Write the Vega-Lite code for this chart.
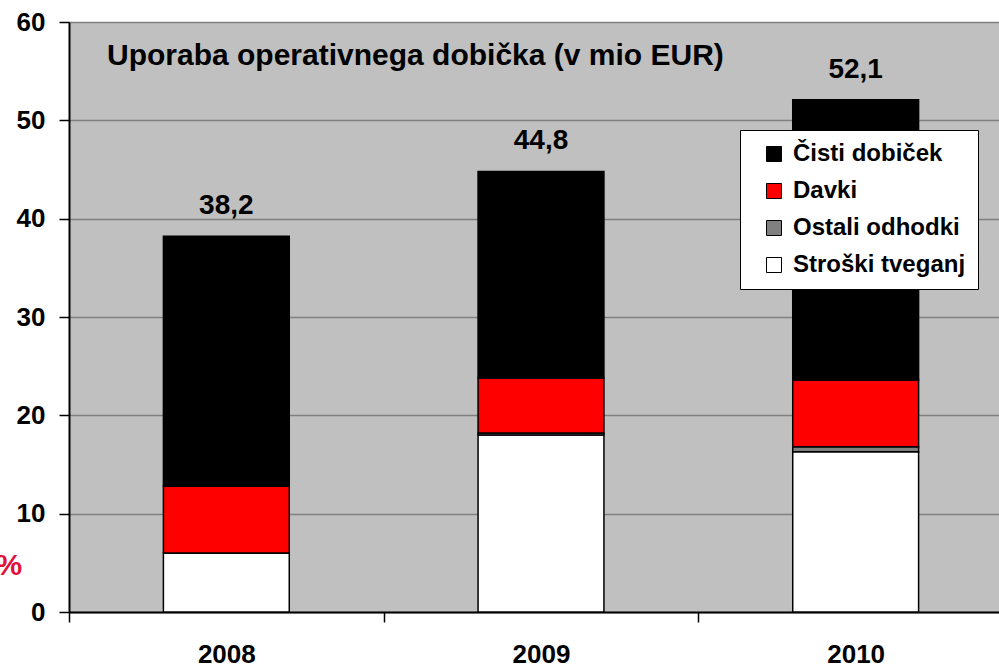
{
  "$schema": "https://vega.github.io/schema/vega-lite/v6.json",
  "width": 944,
  "height": 590,
  "autosize": "none",
  "padding": {"left": 69, "top": 22, "right": 0, "bottom": 56},
  "background": "white",
  "config": {
    "view": {"fill": "#c0c0c0", "stroke": null},
    "font": "Liberation Sans"
  },
  "title": {
    "text": "Uporaba operativnega dobička (v mio EUR)",
    "anchor": "start",
    "frame": "group",
    "orient": "top",
    "baseline": "middle",
    "offset": 0,
    "dx": 38,
    "dy": 77,
    "fontSize": 30,
    "fontWeight": "bold",
    "color": "black"
  },
  "datasets": {
    "bars": [
      {"leto": "2008", "kategorija": "Stroški tveganj", "red": 1, "vrednost": 6.0},
      {"leto": "2008", "kategorija": "Ostali odhodki", "red": 2, "vrednost": 0.0},
      {"leto": "2008", "kategorija": "Davki", "red": 3, "vrednost": 6.8},
      {"leto": "2008", "kategorija": "Čisti dobiček", "red": 4, "vrednost": 25.4},
      {"leto": "2009", "kategorija": "Stroški tveganj", "red": 1, "vrednost": 18.0},
      {"leto": "2009", "kategorija": "Ostali odhodki", "red": 2, "vrednost": 0.2},
      {"leto": "2009", "kategorija": "Davki", "red": 3, "vrednost": 5.6},
      {"leto": "2009", "kategorija": "Čisti dobiček", "red": 4, "vrednost": 21.0},
      {"leto": "2010", "kategorija": "Stroški tveganj", "red": 1, "vrednost": 16.3},
      {"leto": "2010", "kategorija": "Ostali odhodki", "red": 2, "vrednost": 0.5},
      {"leto": "2010", "kategorija": "Davki", "red": 3, "vrednost": 6.8},
      {"leto": "2010", "kategorija": "Čisti dobiček", "red": 4, "vrednost": 28.5}
    ],
    "totals": [
      {"leto": "2008", "skupaj": 38.2, "oznaka": "38,2"},
      {"leto": "2009", "skupaj": 44.8, "oznaka": "44,8"},
      {"leto": "2010", "skupaj": 52.1, "oznaka": "52,1"}
    ]
  },
  "layer": [
    {
      "data": {"name": "bars"},
      "mark": {"type": "bar", "stroke": "black", "strokeWidth": 1.5, "width": {"band": 0.4}},
      "encoding": {
        "x": {
          "field": "leto",
          "type": "nominal",
          "scale": {"paddingInner": 0, "paddingOuter": 0},
          "axis": {
            "title": null,
            "labelAngle": 0,
            "labelFontSize": 26,
            "labelFontWeight": "bold",
            "labelColor": "black",
            "labelPadding": 19,
            "tickBand": "extent",
            "tickSize": 10,
            "tickColor": "black",
            "tickWidth": 1.5,
            "domainColor": "black",
            "domainWidth": 2
          }
        },
        "y": {
          "field": "vrednost",
          "type": "quantitative",
          "stack": "zero",
          "scale": {"domain": [0, 60], "nice": false},
          "axis": {
            "values": [0, 10, 20, 30, 40, 50, 60],
            "title": "%",
            "titleAngle": 0,
            "titleAlign": "left",
            "titleBaseline": "middle",
            "titleX": -74,
            "titleY": 543,
            "titleColor": "#e0103a",
            "titleFontSize": 30,
            "titleFontWeight": "bold",
            "labelFontSize": 26,
            "labelFontWeight": "bold",
            "labelColor": "black",
            "labelPadding": 14,
            "tickSize": 10,
            "tickColor": "black",
            "tickWidth": 1.5,
            "domainColor": "black",
            "domainWidth": 2,
            "grid": true,
            "gridColor": "#808080",
            "gridWidth": 1.5
          }
        },
        "color": {
          "field": "kategorija",
          "type": "nominal",
          "scale": {
            "domain": ["Čisti dobiček", "Davki", "Ostali odhodki", "Stroški tveganj"],
            "range": ["#000000", "#ff0000", "#808080", "#ffffff"]
          },
          "legend": {
            "title": null,
            "orient": "none",
            "legendX": 671,
            "legendY": 108,
            "fillColor": "white",
            "strokeColor": "black",
            "padding": 12,
            "symbolOffset": 10,
            "symbolType": "square",
            "symbolSize": 225,
            "symbolStrokeColor": "black",
            "symbolStrokeWidth": 1,
            "labelFontSize": 24,
            "labelFontWeight": "bold",
            "labelColor": "black",
            "labelOffset": 7,
            "labelLimit": 400,
            "rowPadding": 13
          }
        },
        "order": {"field": "red", "type": "quantitative"}
      }
    },
    {
      "data": {"name": "totals"},
      "mark": {"type": "text", "dy": -30, "fontSize": 28, "fontWeight": "bold", "color": "black"},
      "encoding": {
        "x": {"field": "leto", "type": "nominal"},
        "y": {"field": "skupaj", "type": "quantitative"},
        "text": {"field": "oznaka"}
      }
    }
  ]
}
